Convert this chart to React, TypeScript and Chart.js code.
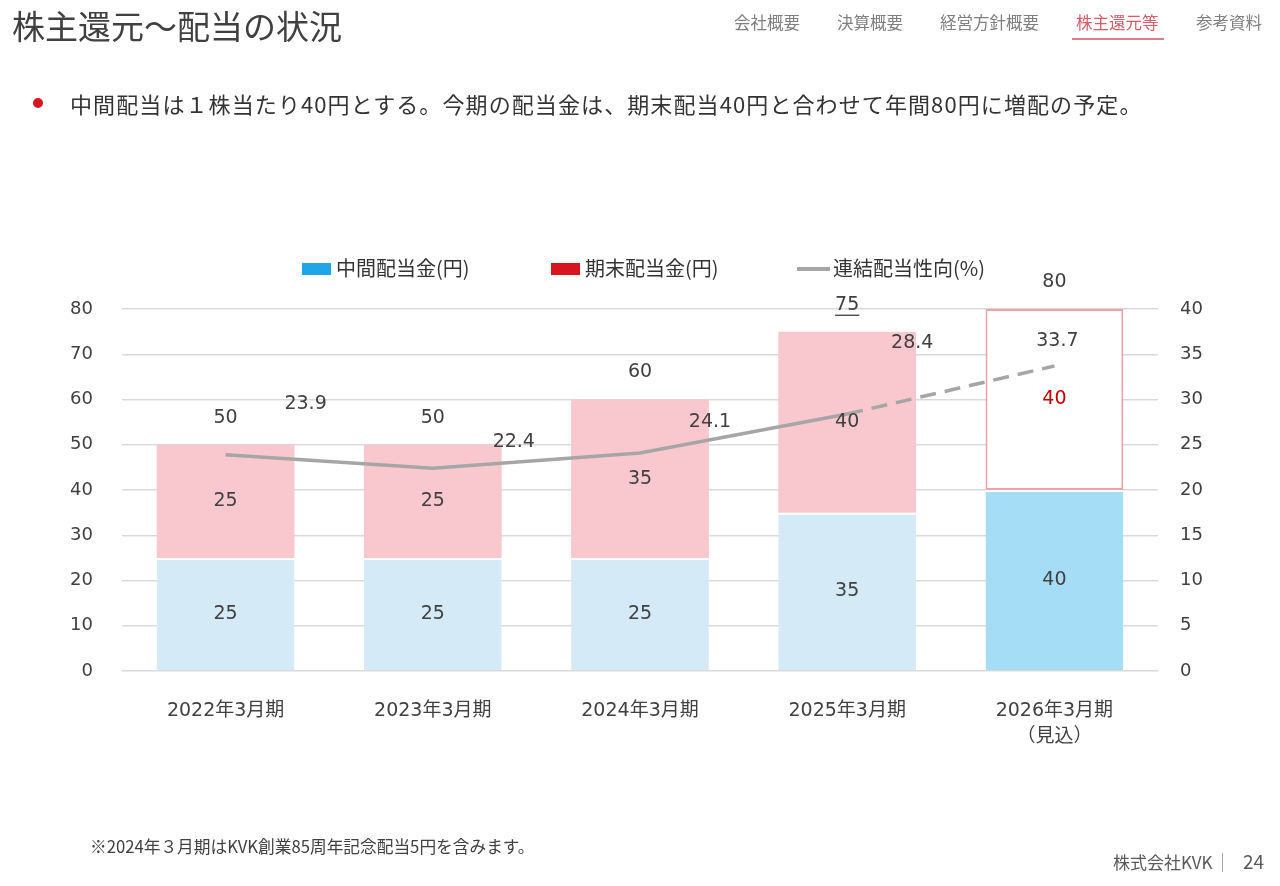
import React, { useEffect, useRef } from "react";
import { Chart, registerables } from "chart.js";

Chart.register(...registerables);

// ---- data ----
const categories: (string | string[])[] = [
  "2022年3月期",
  "2023年3月期",
  "2024年3月期",
  "2025年3月期",
  ["2026年3月期", "（見込）"],
];
const interimDividend = [25, 25, 25, 35, 40];
const yearEndDividend = [25, 25, 35, 40, 40];
const totalDividend = [50, 50, 60, 75, 80];
const payoutRatio = [23.9, 22.4, 24.1, 28.4, 33.7];
const seriesNames = ["中間配当金(円)", "期末配当金(円)", "連結配当性向(%)"];
const leftAxisRange = [0, 80, 10];
const rightAxisRange = [0, 40, 5];
const navItems = ["会社概要", "決算概要", "経営方針概要", "株主還元等", "参考資料"];
const activeNav = "株主還元等";
const titleText = "株主還元～配当の状況";
const bulletText =
  "中間配当は１株当たり40円とする。今期の配当金は、期末配当40円と合わせて年間80円に増配の予定。";
const footnoteText = "※2024年３月期はKVK創業85周年記念配当5円を含みます。";
const companyText = "株式会社KVK";
const pageNumber = "24";

// ---- styles ----
const NUM_FONT = '"DejaVu Sans", "Noto Sans CJK JP", sans-serif';
const JP_FONT = '"Noto Sans CJK JP", "Noto Sans", sans-serif';
const TEXT = "#404040";
const PROJ = 4; // index of the forecast year
const UNDERLINED_TOTAL = 3;
const LINE_DS = 0;
const INTERIM_DS = 1;
const YEAREND_DS = 2;
const LINE_LABEL_OFFSETS = [
  [80, -51],
  [81, -26],
  [70, -31],
  [65, -71],
  [3, -25],
];
const NAV_LEFT = [734, 837, 940, 1076, 1196];

const labelPlugin = {
  id: "valueLabels",
  afterDatasetsDraw(chart: any) {
    const ctx = chart.ctx;
    ctx.save();
    ctx.font = `19px ${NUM_FONT}`;
    ctx.textAlign = "center";
    ctx.textBaseline = "middle";
    [INTERIM_DS, YEAREND_DS].forEach((di) => {
      const meta = chart.getDatasetMeta(di);
      meta.data.forEach((el: any, i: number) => {
        const v = chart.data.datasets[di].data[i];
        const p = el.getProps(["x", "y", "base"], true);
        ctx.fillStyle = di === YEAREND_DS && i === PROJ ? "#c00000" : TEXT;
        ctx.fillText(String(v), p.x, (p.y + p.base) / 2);
      });
    });
    ctx.fillStyle = TEXT;
    const topMeta = chart.getDatasetMeta(YEAREND_DS);
    topMeta.data.forEach((el: any, i: number) => {
      const p = el.getProps(["x", "y"], true);
      const ty = p.y - 27;
      const s = String(totalDividend[i]);
      ctx.fillText(s, p.x, ty);
      if (i === UNDERLINED_TOTAL) {
        const w = ctx.measureText(s).width;
        ctx.fillRect(p.x - w / 2, ty + 10, w, 1.3);
      }
    });
    const lineMeta = chart.getDatasetMeta(LINE_DS);
    lineMeta.data.forEach((pt: any, i: number) => {
      const o = LINE_LABEL_OFFSETS[i];
      ctx.fillText(payoutRatio[i].toFixed(1), pt.x + o[0], pt.y + o[1]);
    });
    ctx.restore();
  },
};

function ChartCanvas() {
  const ref = useRef<HTMLCanvasElement | null>(null);
  useEffect(() => {
    if (!ref.current) return;
    const tickFont = { size: 18, family: NUM_FONT };
    const xTickFont = { size: 19, family: NUM_FONT, lineHeight: 1.37 };
    const chart = new Chart(ref.current, {
      type: "bar",
      data: {
        labels: categories as any,
        datasets: [
          {
            type: "line",
            label: seriesNames[2],
            data: payoutRatio,
            yAxisID: "y1",
            borderColor: "#a6a6a6",
            borderWidth: 3.5,
            pointRadius: 0,
            tension: 0,
            order: 0,
            segment: {
              borderDash: (c: any) => (c.p0DataIndex === PROJ - 1 ? [16, 9] : undefined),
            },
          } as any,
          {
            type: "bar",
            label: seriesNames[0],
            data: interimDividend,
            yAxisID: "y",
            backgroundColor: interimDividend.map((_, i) => (i === PROJ ? "#a6ddf6" : "#d4ebf7")),
            borderColor: "#ffffff",
            borderWidth: { top: 2, left: 0, right: 0, bottom: 0 },
            borderSkipped: false,
            order: 1,
          } as any,
          {
            type: "bar",
            label: seriesNames[1],
            data: yearEndDividend,
            yAxisID: "y",
            backgroundColor: yearEndDividend.map((_, i) => (i === PROJ ? "#ffffff" : "#f9c8ce")),
            borderColor: yearEndDividend.map((_, i) => (i === PROJ ? "#eca3aa" : "#ffffff")),
            borderWidth: yearEndDividend.map((_, i) => (i === PROJ ? 2 : 0)),
            borderSkipped: false,
            order: 1,
          } as any,
        ],
      },
      options: {
        responsive: false,
        animation: false,
        datasets: { bar: { categoryPercentage: 1, barPercentage: 0.665 } },
        layout: { padding: { left: 62, right: 62, top: 309, bottom: 115 } },
        plugins: { legend: { display: false }, tooltip: { enabled: false } },
        scales: {
          x: {
            stacked: true,
            grid: { display: false },
            border: { display: false },
            ticks: { color: TEXT, font: xTickFont, padding: 19, maxRotation: 0, autoSkip: false },
            afterFit: (s: any) => {
              s.height = 100;
            },
          },
          y: {
            stacked: true,
            position: "left",
            min: leftAxisRange[0],
            max: leftAxisRange[1],
            grid: { color: "#d9d9d9", lineWidth: 1.5, drawTicks: false },
            border: { display: false },
            ticks: { stepSize: leftAxisRange[2], color: TEXT, font: tickFont, padding: 29 },
            afterFit: (s: any) => {
              s.width = 60;
            },
          },
          y1: {
            position: "right",
            min: rightAxisRange[0],
            max: rightAxisRange[1],
            grid: { drawOnChartArea: false, drawTicks: false },
            border: { display: false },
            ticks: { stepSize: rightAxisRange[2], color: TEXT, font: tickFont, padding: 22 },
            afterFit: (s: any) => {
              s.width = 60;
            },
          },
        } as any,
      },
      plugins: [labelPlugin as any],
    });
    return () => chart.destroy();
  }, []);
  return (
    <canvas
      ref={ref}
      width={1280}
      height={886}
      style={{ position: "absolute", left: 0, top: 0, width: 1280, height: 886 }}
    />
  );
}

export default function App() {
  const abs = (o: React.CSSProperties): React.CSSProperties => ({
    position: "absolute",
    whiteSpace: "nowrap",
    fontFamily: JP_FONT,
    ...o,
  });
  return (
    <div
      style={{
        position: "fixed",
        left: 0,
        top: 0,
        width: 1280,
        height: 886,
        background: "#ffffff",
        overflow: "hidden",
      }}
    >
      <ChartCanvas />
      <div style={abs({ left: 12, top: 4, fontSize: 33, lineHeight: "42px", color: "#404040" })}>
        {titleText}
      </div>
      {navItems.map((n, i) => (
        <div
          key={n}
          style={abs({
            left: NAV_LEFT[i],
            top: 12,
            fontSize: 16.5,
            lineHeight: "20px",
            color: n === activeNav ? "#d65c67" : "#7f7f7f",
          })}
        >
          {n}
        </div>
      ))}
      <div style={abs({ left: 1072, top: 38, width: 92, height: 2, background: "#d9808a" })} />
      <div
        style={abs({
          left: 33,
          top: 98,
          width: 10,
          height: 10,
          borderRadius: 5,
          background: "#d7141f",
        })}
      />
      <div
        style={abs({
          left: 70,
          top: 88,
          fontSize: 22,
          lineHeight: "30px",
          letterSpacing: "1.1px",
          color: "#333333",
        })}
      >
        {bulletText}
      </div>
      {/* legend */}
      <div style={abs({ left: 302, top: 263, width: 29, height: 12, background: "#1ea6e6" })} />
      <div style={abs({ left: 336, top: 254, fontSize: 20, lineHeight: "28px", color: "#333333" })}>
        {seriesNames[0]}
      </div>
      <div style={abs({ left: 551, top: 263, width: 29, height: 12, background: "#d7141f" })} />
      <div style={abs({ left: 585, top: 254, fontSize: 20, lineHeight: "28px", color: "#333333" })}>
        {seriesNames[1]}
      </div>
      <div style={abs({ left: 797, top: 267, width: 33, height: 4, background: "#a6a6a6" })} />
      <div style={abs({ left: 833, top: 254, fontSize: 20, lineHeight: "28px", color: "#333333" })}>
        {seriesNames[2]}
      </div>
      {/* footer */}
      <div style={abs({ left: 90, top: 834, fontSize: 16.7, lineHeight: "24px", color: "#404040" })}>
        {footnoteText}
      </div>
      <div style={abs({ left: 1113, top: 851, fontSize: 17, lineHeight: "22px", color: "#595959" })}>
        {companyText}
      </div>
      <div style={abs({ left: 1222, top: 853, width: 1, height: 19, background: "#a6a6a6" })} />
      <div style={abs({ left: 1243, top: 848, fontSize: 19, lineHeight: "26px", color: "#595959" })}>
        {pageNumber}
      </div>
    </div>
  );
}
